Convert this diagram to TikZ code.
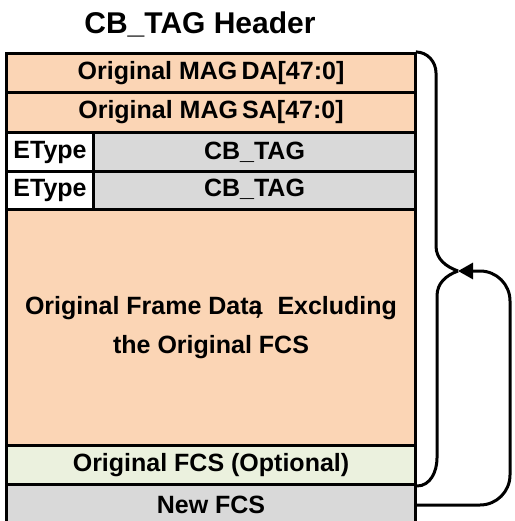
\documentclass[tikz,border=0pt]{standalone}
\usepackage{fontspec}
\setmainfont{Liberation Sans}
\usetikzlibrary{arrows.meta}
\definecolor{peach}{HTML}{FBD5B5}
\definecolor{tagGray}{HTML}{D9D9D9}
\definecolor{fcsGreen}{HTML}{EBF1DE}
\tikzset{
  field/.style={draw, line width=3pt, anchor=north west, inner sep=0pt,
    font=\fontsize{25}{30}\selectfont\bfseries},
  link/.style={line width=3pt}
}
\begin{document}
\begin{tikzpicture}[x=1pt, y=-1pt]
\useasboundingbox (0,0) rectangle (514,521);
%\draw[very thin, gray] (0,0) grid[step=10] (514,521);
\node[font=\fontsize{30}{34}\selectfont\bfseries] (title) at (200,24) {CB\_TAG Header};
\node[field, fill=peach, minimum width=409pt, minimum height=39pt] (da) at (5,52) {Original MAG\,DA[47:0]};
\node[field, fill=peach, minimum width=409pt, minimum height=40pt] (sa) at (5,91) {Original MAG\,SA[47:0]};
\node[field, fill=white, minimum width=87pt, minimum height=39pt] (etypeA) at (5,131) {EType};
\node[field, fill=tagGray, minimum width=322pt, minimum height=39pt] (tagA) at (92,131) {CB\_TAG};
\node[field, fill=white, minimum width=87pt, minimum height=38pt] (etypeB) at (5,170) {EType};
\node[field, fill=tagGray, minimum width=322pt, minimum height=38pt, text depth=6pt] (tagB) at (92,170) {CB\_TAG};
\node[field, fill=peach, minimum width=409pt, minimum height=236pt, align=center] (data) at (5,208)
  {Original Frame Data\kern-0.32em,\hspace{16pt}Excluding\\[9pt]the Original FCS\hspace{10pt}};
\node[field, fill=fcsGreen, minimum width=409pt, minimum height=39pt] (ofcs) at (5,444) {Original FCS (Optional)};
\node[field, fill=tagGray, minimum width=409pt, minimum height=41pt] (nfcs) at (5,483) {New FCS};
% brace on the right
\coordinate (tip) at (458,271);
\draw[link] (da.north east) -- (416,52) to[out=0,in=90] (436,73) -- (436,246) to[out=-90,in=160] (tip);
\draw[link] (tip) to[out=200,in=90] (437,296) -- (437,458) to[out=-90,in=0] (ofcs.south east);
\draw[link, rounded corners=30pt, -{Triangle[length=15pt,width=16pt]}] (nfcs.east) -| (510,271) -- (tip);
\end{tikzpicture}
\end{document}
